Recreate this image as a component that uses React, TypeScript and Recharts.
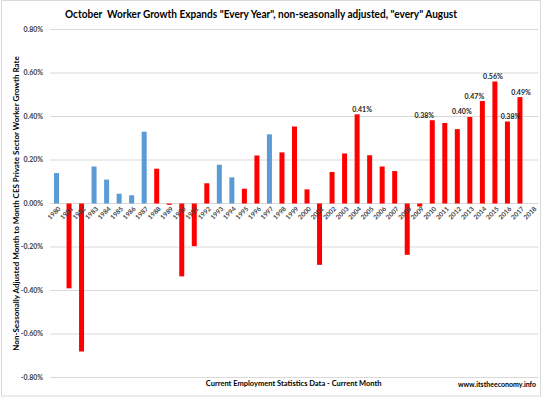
import React from "react";
import { BarChart, Bar, XAxis, YAxis, CartesianGrid, Cell, LabelList } from "recharts";

const years: string[] = [
  "1980", "1981", "1982", "1983", "1984", "1985", "1986", "1987", "1988", "1989",
  "1990", "1991", "1992", "1993", "1994", "1995", "1996", "1997", "1998", "1999",
  "2000", "2001", "2002", "2003", "2004", "2005", "2006", "2007", "2008", "2009",
  "2010", "2011", "2012", "2013", "2014", "2015", "2016", "2017", "2018",
];

// month-to-month growth rate, percent
const growth: (number | null)[] = [
  0.14, -0.39, -0.68, 0.17, 0.11, 0.045, 0.038, 0.33, 0.16, -0.006,
  -0.335, -0.196, 0.093, 0.178, 0.12, 0.068, 0.221, 0.318, 0.235, 0.354,
  0.065, -0.282, 0.145, 0.23, 0.41, 0.222, 0.17, 0.149, -0.236, -0.014,
  0.383, 0.37, 0.342, 0.398, 0.471, 0.561, 0.377, 0.489, null,
];

const blueYears: string[] = ["1980", "1983", "1984", "1985", "1986", "1987", "1993", "1994", "1997"];
const labeledYears: string[] = ["2004", "2010", "2013", "2014", "2015", "2016", "2017"];
const yTicks: number[] = [-0.8, -0.6, -0.4, -0.2, 0, 0.2, 0.4, 0.6, 0.8];

const TITLE = 'October  Worker Growth Expands "Every Year", non-seasonally adjusted, "every" August';
const Y_TITLE = "Non-Seasonally Adjusted Month to Month CES Private Sector Worker Growth Rate";
const X_TITLE = "Current Employment Statistics Data - Current Month";
const SOURCE = "www.itstheeconomy.info";

const RED = "#FF0000";
const BLUE = "#5B9BD5";
const FONT = "Lato, 'Open Sans', sans-serif";

const W = 548;
const H = 398;
const M_TOP = 29.5;
const M_BOTTOM = 20.5;
const Y_MIN = -0.8;
const Y_MAX = 0.8;
const PLOT_H = H - M_TOP - M_BOTTOM;
// vertical position of the value axis' zero, where the category labels sit
const ZERO_Y = M_TOP + (PLOT_H * (Y_MAX - 0)) / (Y_MAX - Y_MIN);

// small horizontal nudges for the value labels (style only)
const labelDx: Record<string, number> = {
  "2004": 5, "2010": -8, "2013": -8, "2014": -8, "2015": -2, "2016": 3, "2017": 1,
};

const data = years.map((year, i) => ({
  year,
  value: growth[i],
  label: labeledYears.includes(year) ? growth[i] : null,
}));

const XTick = (props: any) => {
  const x = Number(props.x) + 3;
  const y = ZERO_Y + 4;
  return (
    <text
      x={x}
      y={y}
      transform={`rotate(-45 ${x} ${y})`}
      textAnchor="end"
      dominantBaseline="central"
      fontSize={6.5}
      fontWeight="bold"
      fontFamily={FONT}
      fill="#404040"
    >
      {props.payload?.value}
    </text>
  );
};

const ValueLabel = (props: any) => {
  if (props.value === null || props.value === undefined) return null;
  const vb = props.viewBox || props;
  const h = Number(vb.height);
  const top = Math.min(Number(vb.y), Number(vb.y) + h);
  const idx = props.index;
  const yr = idx !== undefined ? data[idx]?.year : undefined;
  const dx = yr ? labelDx[yr] || 0 : 0;
  return (
    <text
      x={Number(vb.x) + Number(vb.width) / 2 + dx}
      y={top - 2.5}
      textAnchor="middle"
      fontSize={7}
      fontWeight="bold"
      fontFamily={FONT}
      fill="#262626"
    >
      {`${Number(props.value).toFixed(2)}%`}
    </text>
  );
};

export default function App() {
  return (
    <div style={{ position: "absolute", left: 0, top: 0, width: W, height: H, background: "#fff" }}>
      <BarChart
        width={W}
        height={H}
        data={data}
        margin={{ top: M_TOP, right: 9.5, bottom: 0, left: 0 }}
      >
        <CartesianGrid vertical={false} stroke="#D9D9D9" strokeWidth={1} />
        <YAxis
          width={50}
          domain={[Y_MIN, Y_MAX]}
          ticks={yTicks}
          tickFormatter={(v: number) => `${v.toFixed(2)}%`}
          axisLine={false}
          tickLine={false}
          tickSize={0}
          tickMargin={7}
          tick={{ fontSize: 7, fill: "#404040", fontFamily: FONT, fontWeight: "bold" }}
          interval={0}
        />
        <Bar dataKey="value" barSize={5} isAnimationActive={false}>
          {data.map((d) => (
            <Cell key={d.year} fill={blueYears.includes(d.year) ? BLUE : RED} />
          ))}
          <LabelList dataKey="label" content={ValueLabel} />
        </Bar>
        <XAxis
          dataKey="year"
          height={M_BOTTOM}
          axisLine={false}
          tickLine={false}
          interval={0}
          tick={<XTick />}
          {...({ zIndex: 1000 } as any)}
        />
      </BarChart>
      <svg
        width={W}
        height={H}
        style={{ position: "absolute", left: 0, top: 0, pointerEvents: "none" }}
      >
        <rect x={1.5} y={0.5} width={539} height={395.5} fill="none" stroke="#D9D9D9" strokeWidth={1} />
        <text
          x={261}
          y={18}
          textAnchor="middle"
          fontSize={11}
          fontWeight="bold"
          fontFamily={FONT}
          fill="#000"
          textLength={392}
          lengthAdjust="spacingAndGlyphs"
          style={{ whiteSpace: "pre" }}
        >
          {TITLE}
        </text>
        <text
          x={16}
          y={203.5}
          transform="rotate(-90 16 203.5)"
          textAnchor="middle"
          dominantBaseline="central"
          fontSize={8}
          fontWeight="bold"
          fontFamily={FONT}
          fill="#000"
        >
          {Y_TITLE}
        </text>
        <text x={293.7} y={385.5} textAnchor="middle" fontSize={7.5} fontWeight="bold" fontFamily={FONT} fill="#000">
          {X_TITLE}
        </text>
        <text x={536} y={387} textAnchor="end" fontSize={7} fontWeight="bold" fontFamily={FONT} fill="#000">
          {SOURCE}
        </text>
      </svg>
    </div>
  );
}
